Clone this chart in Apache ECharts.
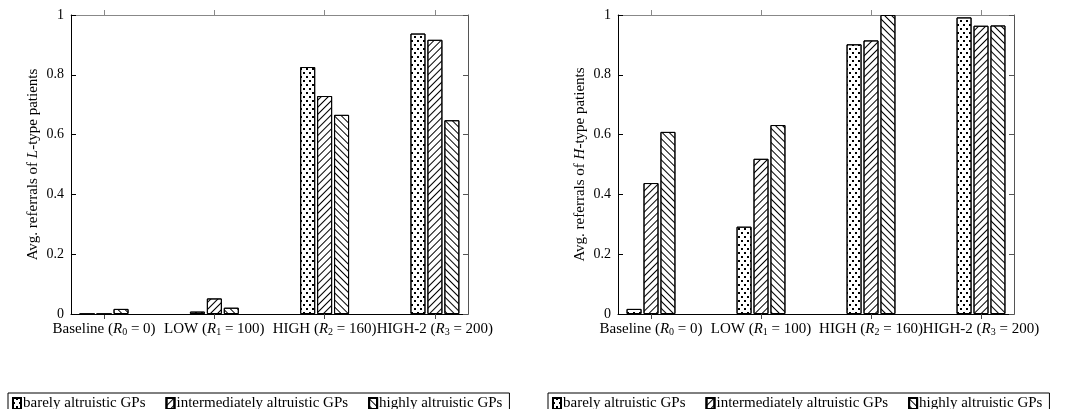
<!DOCTYPE html>
<html>
<head>
<meta charset="utf-8">
<script src="https://cdn.jsdelivr.net/npm/echarts@6/dist/echarts.min.js"></script>
<style>
html, body { margin: 0; padding: 0; background: #fff; }
#chart { width: 1075px; height: 409px; }
</style>
</head>
<body>
<div id="chart"></div>
<script>
/**
 * data
 */
var categories = ['Baseline', 'LOW', 'HIGH', 'HIGH-2'];
var rewardIdx = ['0', '1', '2', '3'];
var rewardVal = ['0', '100', '160', '200'];
var catTicks = [0, 1, 2, 3];
var seriesNames = ['barely altruistic GPs', 'intermediately altruistic GPs', 'highly altruistic GPs'];

// L-type patients (left panel)
var lBarely = [0, 0.008, 0.826, 0.938];
var lInter = [0, 0.052, 0.729, 0.917];
var lHighly = [0.017, 0.021, 0.666, 0.648];

// H-type patients (right panel)
var hBarely = [0.017, 0.292, 0.902, 0.992];
var hInter = [0.438, 0.519, 0.915, 0.964];
var hHighly = [0.609, 0.632, 1.0, 0.965];

var FONT = '"Liberation Serif", "DejaVu Serif", serif';
var TXT = 15;

/**
 * fill patterns: dots, north east lines, north west lines
 */
var decals = [
    { symbol: 'rect', symbolSize: 1, color: '#000', dashArrayX: [[2, 4], [0, 3, 2, 1]], dashArrayY: [2, 2] },
    { symbol: 'rect', symbolSize: 1, color: '#000', dashArrayX: [1, 0], dashArrayY: [1, 4], rotation: -Math.PI / 4 },
    { symbol: 'rect', symbolSize: 1, color: '#000', dashArrayX: [1, 0], dashArrayY: [1, 4], rotation: Math.PI / 4 }
];

function catLabel(value) {
    var i = Math.round(value);
    return categories[i] + ' ({i|R}{s|' + rewardIdx[i] + '} = ' + rewardVal[i] + ')';
}

function xAxes(gridIdx) {
    var base = {
        type: 'value', gridIndex: gridIdx, min: -0.3, max: 3.3,
        splitLine: { show: false }
    };
    var bottom = Object.assign({}, base, {
        position: 'bottom',
        axisLine: { onZero: false, lineStyle: { color: '#000', width: 1 } },
        axisTick: { inside: false, length: 5, customValues: catTicks, lineStyle: { color: '#444' } },
        axisLabel: {
            customValues: catTicks, margin: 8, formatter: catLabel,
            showMinLabel: true, showMaxLabel: true,
            color: '#000', fontFamily: FONT, fontSize: TXT,
            rich: {
                i: { fontStyle: 'italic', fontFamily: FONT, fontSize: TXT, color: '#000' },
                s: { fontFamily: FONT, fontSize: 10, color: '#000', verticalAlign: 'bottom', lineHeight: 12 }
            }
        }
    });
    var top = Object.assign({}, base, {
        position: 'top',
        axisLine: { onZero: false, lineStyle: { color: '#888', width: 1 } },
        axisTick: { inside: false, length: 5, customValues: catTicks, lineStyle: { color: '#888' } },
        axisLabel: { show: false }
    });
    return [bottom, top];
}

function yAxes(gridIdx, letter) {
    var base = {
        type: 'value', gridIndex: gridIdx, min: 0, max: 1, interval: 0.2,
        splitLine: { show: false }
    };
    var left = Object.assign({}, base, {
        position: 'left',
        name: 'Avg. referrals of {i|' + letter + '}-type patients',
        nameLocation: 'middle', nameGap: 30,
        nameTextStyle: {
            color: '#000', fontFamily: FONT, fontSize: TXT,
            rich: { i: { fontStyle: 'italic', fontFamily: FONT, fontSize: TXT, color: '#000' } }
        },
        axisLine: { show: true, onZero: false, lineStyle: { color: '#000', width: 1 } },
        axisTick: { show: true, inside: true, length: 5, lineStyle: { color: '#000' } },
        axisLabel: { color: '#000', fontFamily: FONT, fontSize: 14, margin: 7 }
    });
    var right = Object.assign({}, base, {
        position: 'right',
        axisLine: { show: true, onZero: false, lineStyle: { color: '#555', width: 1 } },
        axisTick: { show: true, inside: true, length: 5, lineStyle: { color: '#555' } },
        axisLabel: { show: false }
    });
    return [left, right];
}

function barSeries(k, values, gridIdx) {
    return {
        name: seriesNames[k],
        type: 'bar',
        xAxisIndex: gridIdx * 2,
        yAxisIndex: gridIdx * 2,
        barWidth: 15,
        barGap: '13%',
        itemStyle: { color: '#fff', borderColor: '#000', borderWidth: 1, decal: decals[k] },
        data: values.map(function (v, i) { return [i, v]; })
    };
}

function legendBox(left) {
    return {
        data: seriesNames,
        left: left, top: 393,
        orient: 'horizontal',
        icon: 'rect', itemWidth: 8, itemHeight: 11, itemGap: 20,
        padding: [3, 7, 20, 4],
        borderColor: '#000', borderWidth: 1,
        selectedMode: false,
        textStyle: { color: '#000', fontFamily: FONT, fontSize: TXT, padding: [0, 0, 0, -3] }
    };
}

var chart = echarts.init(document.getElementById('chart'));
var option = {
    animation: false,
    backgroundColor: '#fff',
    grid: [
        { left: 71, top: 15, width: 397, height: 299 },
        { left: 618, top: 15, width: 396, height: 299 }
    ],
    legend: [legendBox(8), legendBox(548)],
    xAxis: xAxes(0).concat(xAxes(1)),
    yAxis: yAxes(0, 'L').concat(yAxes(1, 'H')),
    series: [
        barSeries(0, lBarely, 0), barSeries(1, lInter, 0), barSeries(2, lHighly, 0),
        barSeries(0, hBarely, 1), barSeries(1, hInter, 1), barSeries(2, hHighly, 1)
    ]
};
chart.setOption(option);
</script>
</body>
</html>
